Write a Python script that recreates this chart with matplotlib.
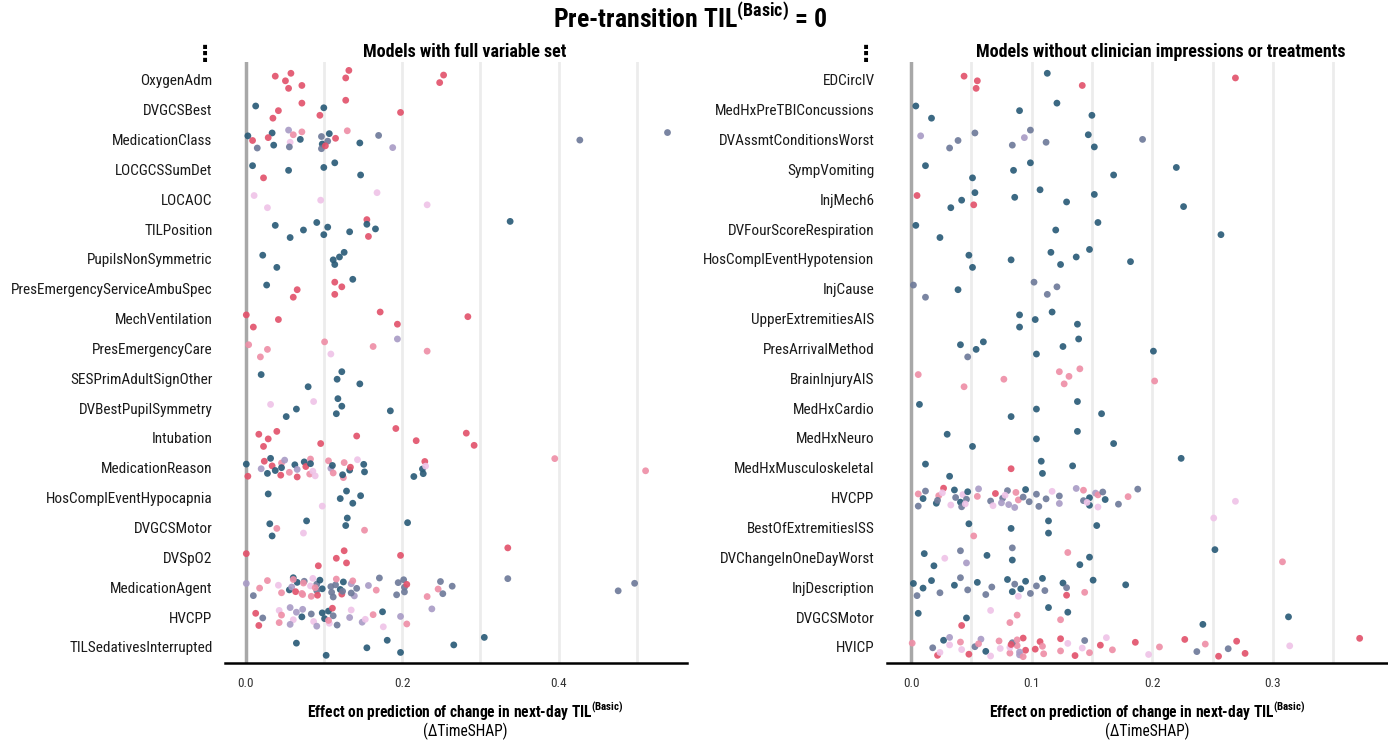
import numpy as np
import matplotlib
matplotlib.use('Agg')
import matplotlib.pyplot as plt
from matplotlib import font_manager as fm

# ---- data -------------------------------------------------------------
left_features = ['OxygenAdm', 'DVGCSBest', 'MedicationClass', 'LOCGCSSumDet', 'LOCAOC',
                 'TILPosition', 'PupilsNonSymmetric', 'PresEmergencyServiceAmbuSpec',
                 'MechVentilation', 'PresEmergencyCare', 'SESPrimAdultSignOther',
                 'DVBestPupilSymmetry', 'Intubation', 'MedicationReason',
                 'HosComplEventHypocapnia', 'DVGCSMotor', 'DVSpO2', 'MedicationAgent',
                 'HVCPP', 'TILSedativesInterrupted']

left_effects = [
    [0.038, 0.055, 0.051, 0.058, 0.072, 0.128, 0.132, 0.248, 0.253],
    [0.013, 0.035, 0.042, 0.072, 0.095, 0.100, 0.128, 0.198],
    [0.003, 0.015, 0.009, 0.034, 0.036, 0.029, 0.055, 0.057, 0.061, 0.056, 0.070, 0.072,
     0.098, 0.097, 0.097, 0.105, 0.107, 0.102, 0.115, 0.130, 0.146, 0.170, 0.188, 0.427, 0.539],
    [0.009, 0.023, 0.055, 0.114, 0.147, 0.100],
    [0.011, 0.028, 0.096, 0.168, 0.232],
    [0.038, 0.057, 0.074, 0.091, 0.100, 0.105, 0.155, 0.133, 0.155, 0.157, 0.166, 0.338],
    [0.022, 0.040, 0.112, 0.126, 0.114, 0.120],
    [0.027, 0.061, 0.066, 0.114, 0.114, 0.123, 0.137],
    [0.001, 0.010, 0.042, 0.172, 0.194, 0.284],
    [0.004, 0.019, 0.028, 0.101, 0.109, 0.163, 0.194, 0.232],
    [0.020, 0.080, 0.117, 0.123, 0.146],
    [0.032, 0.052, 0.065, 0.087, 0.116, 0.123, 0.118, 0.185],
    [0.017, 0.023, 0.029, 0.040, 0.096, 0.142, 0.192, 0.218, 0.282, 0.292],
    [0.001, 0.003, 0.020, 0.024, 0.028, 0.034, 0.032, 0.038, 0.046, 0.045,
     0.046, 0.050, 0.056, 0.063, 0.066, 0.066, 0.075, 0.082, 0.077, 0.083,
     0.086, 0.083, 0.089, 0.109, 0.106, 0.112, 0.111, 0.125, 0.133, 0.126,
     0.124, 0.134, 0.143, 0.152, 0.151, 0.215, 0.226, 0.229, 0.227, 0.230,
     0.395, 0.511],
    [0.029, 0.098, 0.121, 0.129, 0.137, 0.147],
    [0.031, 0.034, 0.040, 0.078, 0.074, 0.128, 0.130, 0.152, 0.207],
    [0.001, 0.093, 0.116, 0.126, 0.129, 0.198, 0.335],
    [0.001, 0.010, 0.018, 0.028, 0.046, 0.042, 0.061, 0.056, 0.066, 0.073,
     0.059, 0.061, 0.064, 0.091, 0.084, 0.098, 0.075, 0.072, 0.083, 0.086,
     0.091, 0.074, 0.092, 0.089, 0.095, 0.110, 0.115, 0.112, 0.121, 0.125,
     0.123, 0.109, 0.116, 0.124, 0.135, 0.139, 0.142, 0.137, 0.135, 0.157,
     0.171, 0.167, 0.195, 0.193, 0.203, 0.202, 0.203, 0.206, 0.232, 0.246,
     0.249, 0.252, 0.264, 0.335, 0.476, 0.497],
    [0.013, 0.017, 0.022, 0.043, 0.043, 0.046, 0.057, 0.061, 0.065, 0.057,
     0.072, 0.073, 0.087, 0.084, 0.091, 0.101, 0.106, 0.107, 0.112, 0.111,
     0.106, 0.098, 0.117, 0.133, 0.135, 0.149, 0.163, 0.176, 0.153, 0.175,
     0.206, 0.198, 0.238],
    [0.065, 0.103, 0.155, 0.181, 0.198, 0.266, 0.305],
]
left_groups = [
    'RRRRRRRRR', 'TRRRRTRR', 'TSRTTRLPKSTKTSSSTRRKTSLSS', 'TRTTTT', 'PPPPP',
    'TTTTTTRTTRTT', 'TTTTTT', 'TRRRRRT', 'RRRRRR', 'KKKKPKLK', 'TTTTT', 'PTTPTTTT',
    'RRRRRRRRRR', 'TRLRTRTTKRTLKTRLTKRKPTPLKKTKTKTRPTTTTRTPKK', 'TPTTTT', 'TTKTPTTKT',
    'RRRRRRR', 'LSKKKPTTTKLKRSKTSKPPSKRKTSSSTTRSKSLLSKSLSKSSSSSRKKSSSSSS',
    'RRSPKKLPLLTLPSLTTPSRKTSLPLKPPTKLL', 'TTTTTTT',
]

right_features = ['EDCircIV', 'MedHxPreTBIConcussions', 'DVAssmtConditionsWorst', 'SympVomiting',
                  'InjMech6', 'DVFourScoreRespiration', 'HosComplEventHypotension', 'InjCause',
                  'UpperExtremitiesAIS', 'PresArrivalMethod', 'BrainInjuryAIS', 'MedHxCardio',
                  'MedHxNeuro', 'MedHxMusculoskeletal', 'HVCPP', 'BestOfExtremitiesISS',
                  'DVChangeInOneDayWorst', 'InjDescription', 'DVGCSMotor', 'HVICP']

right_effects = [
    [0.044, 0.054, 0.055, 0.113, 0.142, 0.269],
    [0.004, 0.017, 0.090, 0.121, 0.150],
    [0.008, 0.032, 0.039, 0.053, 0.084, 0.094, 0.099, 0.112, 0.147, 0.152, 0.192],
    [0.012, 0.051, 0.085, 0.099, 0.168, 0.220],
    [0.005, 0.033, 0.042, 0.053, 0.052, 0.086, 0.107, 0.129, 0.152, 0.226],
    [0.004, 0.024, 0.120, 0.155, 0.257],
    [0.048, 0.051, 0.083, 0.116, 0.124, 0.137, 0.148, 0.182],
    [0.002, 0.012, 0.039, 0.102, 0.113, 0.121],
    [0.090, 0.090, 0.103, 0.117, 0.138],
    [0.041, 0.047, 0.054, 0.060, 0.104, 0.126, 0.139, 0.201],
    [0.006, 0.044, 0.077, 0.123, 0.127, 0.131, 0.140, 0.202],
    [0.007, 0.083, 0.104, 0.138, 0.158],
    [0.030, 0.051, 0.104, 0.138, 0.168],
    [0.012, 0.032, 0.083, 0.108, 0.109, 0.134, 0.224],
    [0.006, 0.006, 0.010, 0.012, 0.021, 0.023, 0.027, 0.022, 0.026, 0.033,
     0.037, 0.036, 0.041, 0.043, 0.042, 0.046, 0.047, 0.045, 0.055, 0.056,
     0.066, 0.070, 0.068, 0.076, 0.080, 0.075, 0.078, 0.086, 0.089, 0.087,
     0.081, 0.093, 0.095, 0.098, 0.104, 0.106, 0.112, 0.117, 0.123, 0.123,
     0.137, 0.143, 0.153, 0.148, 0.148, 0.143, 0.146, 0.155, 0.155, 0.161,
     0.159, 0.172, 0.180, 0.188, 0.269],
    [0.048, 0.052, 0.083, 0.114, 0.114, 0.154, 0.251],
    [0.011, 0.019, 0.028, 0.041, 0.046, 0.063, 0.084, 0.084, 0.130, 0.140, 0.148, 0.252, 0.308],
    [0.002, 0.005, 0.010, 0.017, 0.024, 0.036, 0.041, 0.047, 0.055, 0.062,
     0.067, 0.080, 0.084, 0.086, 0.089, 0.091, 0.095, 0.099, 0.104, 0.109,
     0.111, 0.126, 0.129, 0.129, 0.151, 0.144, 0.178],
    [0.006, 0.042, 0.046, 0.066, 0.082, 0.088, 0.114, 0.124, 0.130, 0.242, 0.313],
    [0.001, 0.022, 0.018, 0.027, 0.024, 0.032, 0.032, 0.042, 0.041, 0.048,
     0.053, 0.058, 0.062, 0.056, 0.066, 0.074, 0.073, 0.082, 0.088, 0.093,
     0.095, 0.084, 0.090, 0.082, 0.088, 0.090, 0.083, 0.093, 0.103, 0.107,
     0.110, 0.109, 0.124, 0.124, 0.130, 0.136, 0.142, 0.144, 0.148, 0.157,
     0.162, 0.167, 0.186, 0.197, 0.206, 0.227, 0.237, 0.244, 0.255, 0.263,
     0.270, 0.277, 0.314, 0.372],
]
right_groups = [
    'RRRTRR', 'TTTTT', 'LSSSSLSSTTS', 'TTTTTT', 'RTTTRTTTTT', 'TTTTT', 'TTTTTTTT',
    'SSTSSS', 'TTTTT', 'TSTTTTTT', 'KKKKKKKK', 'TTTTT', 'TTTTT', 'TTRTTTT',
    'KSTSTKRSPPSTTPSSTPKLSRPSSLPLKKLSTSSSSPLSLSLTTKPKPTSSKSP',
    'TKTTTTP', 'TTPSLTSTKTTTK', 'TSTTSTSSTSSTTSPTTSSTSTRSTKT', 'TRTPKKTKTTT',
    'KRSTPPLPKRSLTKPPKKKRRSLPKLRKRRKKRKPRPSKRPKRPKRSKRSRRPR',
]

palette = {'T': '#2b5c78', 'S': '#6f7b9a', 'L': '#a99cc6',
           'P': '#efc4e8', 'K': '#ee8fa7', 'R': '#e2536c'}

# ---- fonts ------------------------------------------------------------
names = {f.name for f in fm.fontManager.ttflist}
family = next((n for n in ['Roboto Condensed', 'Liberation Sans Narrow', 'Roboto']
               if n in names), 'DejaVu Sans')
plt.rcParams['font.family'] = [family, 'DejaVu Sans']
plt.rcParams['mathtext.fontset'] = 'custom'
plt.rcParams['mathtext.rm'] = family
plt.rcParams['mathtext.bf'] = family + ':bold'

W, H = 1388, 742
fig = plt.figure(figsize=(W / 100, H / 100), dpi=100)
axL = fig.add_axes([225 / W, 1 - 663 / H, 462 / W, 601 / H])
axR = fig.add_axes([887 / W, 1 - 663 / H, 501 / W, 601 / H])


def jitter(n):
    k = np.arange(n)
    return ((k * 0.6180339887 + 0.31) % 1 - 0.5) * 0.66


def draw(ax, features, effects, groups, xlim, grid_step, ticks):
    for i, (vals, grp) in enumerate(zip(effects, groups)):
        ax.scatter(vals, i + jitter(len(vals)), c=[palette[g] for g in grp],
                   s=24, alpha=0.92, linewidths=0, zorder=3)
    for x in np.arange(grid_step, xlim[1], grid_step):
        ax.axvline(x, color='#ececec', lw=2, zorder=1)
    ax.axvline(0, color='#a8a8a8', lw=2.5, zorder=2)
    ax.set_yticks(range(len(features)), features)
    ax.set_ylim(19.54, -0.6)
    ax.set_xlim(xlim)
    ax.set_xticks(ticks, ['%.1f' % t for t in ticks])
    for s in ['top', 'left', 'right']:
        ax.spines[s].set_visible(False)
    ax.spines['bottom'].set_linewidth(1.8)
    ax.tick_params(axis='y', length=0, labelsize=11, pad=9, labelcolor='#1a1a1a')
    ax.tick_params(axis='x', length=0, labelsize=9.5, pad=10, labelcolor='#333333')


draw(axL, left_features, left_effects, left_groups, (-0.0262, 0.5639), 0.1, [0.0, 0.2, 0.4])
draw(axR, right_features, right_effects, right_groups, (-0.0199, 0.3955), 0.05, [0.0, 0.1, 0.2, 0.3])

fig.text(690 / W, 1 - 18 / H, r'Pre-transition TIL$^{\mathbf{(Basic)}}$ = 0',
         ha='center', va='center', fontsize=18.5, fontweight='bold')
fig.text(465 / W, 1 - 52 / H, 'Models with full variable set',
         ha='center', va='center', fontsize=13, fontweight='bold')
fig.text(1161 / W, 1 - 52 / H, 'Models without clinician impressions or treatments',
         ha='center', va='center', fontsize=13, fontweight='bold')
for xc in [205, 866]:
    fig.text(xc / W, 1 - 55 / H, '\u22ee', ha='center', va='center', fontsize=16,
             fontweight='bold', family=['DejaVu Sans'])
for xc in [465, 1147]:
    fig.text(xc / W, 1 - 711 / H, r'Effect on prediction of change in next-day TIL$^{\mathbf{(Basic)}}$',
             ha='center', va='center', fontsize=11.2, fontweight='bold')
    fig.text(xc / W, 1 - 731 / H, '(\u0394TimeSHAP)', ha='center', va='center', fontsize=11.2)

fig.savefig('out.png', dpi=100)
